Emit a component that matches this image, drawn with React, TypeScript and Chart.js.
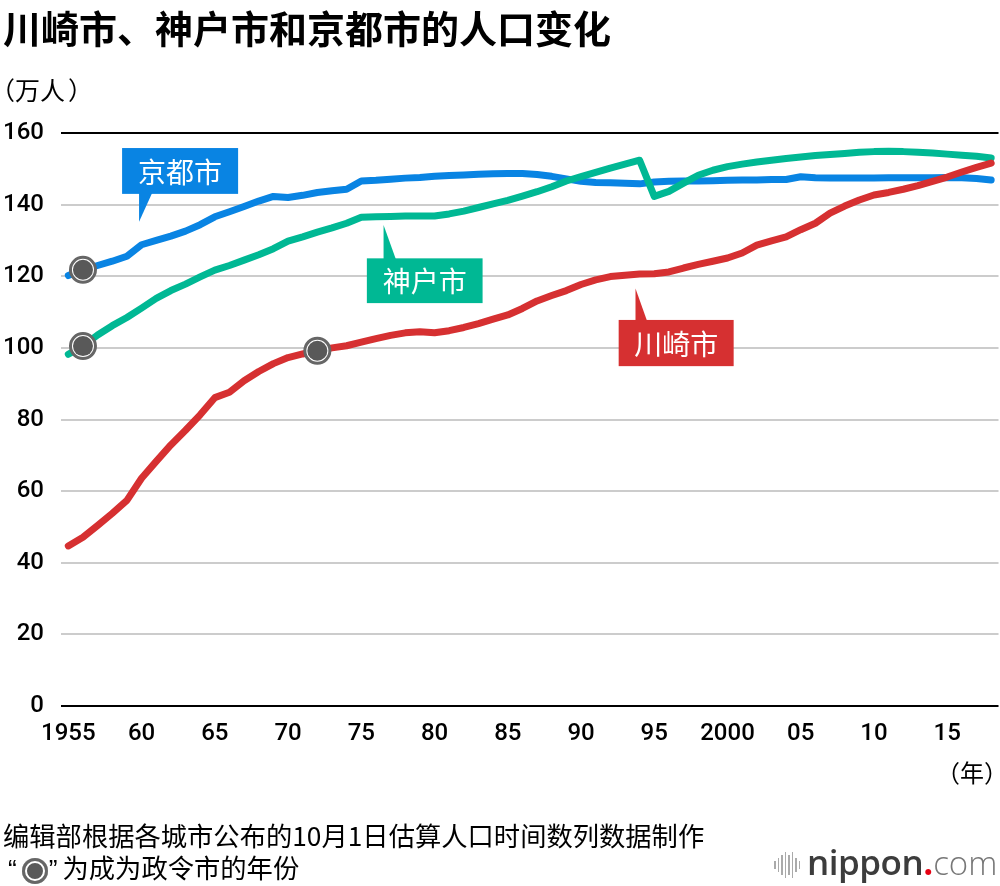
import React, { useEffect, useRef } from "react";
import { Chart, registerables } from "chart.js";

Chart.register(...registerables);

// ---------- DATA ----------
const firstYear = 1955;
const lastYear = 2018;
const years: number[] = [];
for (let yv = firstYear; yv <= lastYear; yv++) years.push(yv);

const tickYears = [1955, 1960, 1965, 1970, 1975, 1980, 1985, 1990, 1995, 2000, 2005, 2010, 2015];
const tickTexts = ["1955", "60", "65", "70", "75", "80", "85", "90", "95", "2000", "05", "10", "15"];

// population, 10k persons, 1955..2018
const kyoto = [
  120.2, 121.8, 123.0, 124.2, 125.6,
  128.8, 130.0, 131.2, 132.6, 134.4,
  136.6, 138.0, 139.5, 141.0, 142.3,
  142.0, 142.6, 143.4, 143.9, 144.3,
  146.6, 146.8, 147.1, 147.4, 147.6,
  147.9, 148.1, 148.3, 148.5, 148.6,
  148.7, 148.7, 148.4, 147.9, 147.2,
  146.5, 146.2, 146.1, 146.0, 145.8,
  146.3, 146.5, 146.6, 146.6, 146.7,
  146.8, 146.9, 146.9, 147.0, 147.0,
  147.8, 147.5, 147.4, 147.4, 147.4,
  147.4, 147.5, 147.5, 147.5, 147.5,
  147.6, 147.5, 147.3, 146.9,
];

const kobe = [
  98.2, 100.5, 103.6, 106.2, 108.5,
  111.1, 113.8, 116.0, 117.8, 119.8,
  121.7, 123.0, 124.5, 126.0, 127.7,
  129.8, 131.0, 132.3, 133.5, 134.8,
  136.5, 136.6, 136.7, 136.8, 136.8,
  136.8, 137.4, 138.2, 139.2, 140.2,
  141.2, 142.4, 143.6, 145.0, 146.6,
  147.8, 149.0, 150.2, 151.3, 152.4,
  142.3, 143.7, 146.0, 148.2, 149.6,
  150.6, 151.3, 151.9, 152.4, 152.9,
  153.3, 153.7, 154.0, 154.3, 154.6,
  154.8, 154.9, 154.8, 154.6, 154.4,
  154.1, 153.8, 153.5, 153.0,
];

const kawasaki = [
  44.7, 47.1, 50.4, 53.8, 57.4,
  63.6, 68.3, 72.9, 77.0, 81.3,
  86.1, 87.6, 90.8, 93.4, 95.6,
  97.3, 98.3, 99.2, 100.0, 100.6,
  101.6, 102.6, 103.5, 104.2, 104.5,
  104.2, 104.8, 105.7, 106.8, 108.0,
  109.2, 111.0, 113.1, 114.6, 116.0,
  117.7, 119.0, 119.9, 120.3, 120.6,
  120.7, 121.2, 122.3, 123.3, 124.2,
  125.1, 126.5, 128.7, 129.9, 131.0,
  133.0, 134.8, 137.6, 139.6, 141.3,
  142.7, 143.4, 144.3, 145.3, 146.5,
  147.7, 149.1, 150.4, 151.6,
];

// year each city became a designated city
const designatedYears = { kyoto: 1956, kobe: 1956, kawasaki: 1972 };

const cityNames = { kyoto: "京都市", kobe: "神户市", kawasaki: "川崎市" };
const cityColors = { kyoto: "#0984e3", kobe: "#00b894", kawasaki: "#d63031" };

// callout boxes in data coordinates (year, value)
const callouts = [
  { key: "kyoto", x0: 1958.67, x1: 1966.59, yTop: 155.8, yBot: 143.0, tipX: 1959.83, tipY: 135.2, baseX0: 1959.83, baseX1: 1960.72, up: false },
  { key: "kobe", x0: 1975.38, x1: 1983.28, yTop: 125.0, yBot: 112.5, tipX: 1976.52, tipY: 134.3, baseX0: 1976.52, baseX1: 1977.36, up: true },
  { key: "kawasaki", x0: 1992.57, x1: 2000.42, yTop: 107.8, yBot: 94.9, tipX: 1993.72, tipY: 116.6, baseX0: 1993.72, baseX1: 1994.51, up: true },
];

const labels = years.map(String);

function markerPoints() {
  const pts: { x: string; y: number }[] = [];
  pts.push({ x: String(designatedYears.kyoto), y: kyoto[designatedYears.kyoto - firstYear] });
  pts.push({ x: String(designatedYears.kobe), y: kobe[designatedYears.kobe - firstYear] });
  pts.push({ x: String(designatedYears.kawasaki), y: kawasaki[designatedYears.kawasaki - firstYear] });
  return pts;
}

const calloutPlugin = {
  id: "callouts",
  afterDatasetsDraw(chart: any) {
    const { ctx, scales } = chart;
    const xs = scales.x;
    const ys = scales.y;
    const x0 = xs.getPixelForValue(0);
    const step = xs.getPixelForValue(1) - x0;
    const px = (yr: number) => x0 + (yr - firstYear) * step;
    const py = (v: number) => ys.getPixelForValue(v);
    ctx.save();
    for (const c of callouts) {
      const color = (cityColors as any)[c.key];
      ctx.fillStyle = color;
      const l = px(c.x0), r = px(c.x1), t = py(c.yTop), b = py(c.yBot);
      ctx.fillRect(l, t, r - l, b - t);
      ctx.beginPath();
      const baseY = c.up ? t : b;
      ctx.moveTo(px(c.baseX0), baseY + (c.up ? 1 : -1));
      ctx.lineTo(px(c.baseX1), baseY + (c.up ? 1 : -1));
      ctx.lineTo(px(c.tipX), py(c.tipY));
      ctx.closePath();
      ctx.fill();
      ctx.fillStyle = "#ffffff";
      ctx.font = '28px "Noto Sans CJK SC", sans-serif';
      ctx.textAlign = "center";
      ctx.textBaseline = "middle";
      ctx.fillText((cityNames as any)[c.key], (l + r) / 2, (t + b) / 2 + 1);
    }
    ctx.restore();
  },
};

export default function App() {
  const canvasRef = useRef<HTMLCanvasElement | null>(null);

  useEffect(() => {
    if (!canvasRef.current) return;
    const lineDs = (key: "kyoto" | "kobe" | "kawasaki", data: number[], order: number) => ({
      type: "line" as const,
      label: cityNames[key],
      data,
      borderColor: cityColors[key],
      backgroundColor: cityColors[key],
      borderWidth: 7,
      pointRadius: 0,
      pointHoverRadius: 0,
      tension: 0,
      borderJoinStyle: "round" as const,
      borderCapStyle: "round" as const,
      order,
      clip: false as any,
    });
    const chart = new Chart(canvasRef.current, {
      type: "line",
      data: {
        labels,
        datasets: [
          lineDs("kawasaki", kawasaki, 1),
          lineDs("kobe", kobe, 2),
          lineDs("kyoto", kyoto, 3),
          {
            type: "line",
            label: "inner",
            data: markerPoints() as any,
            showLine: false,
            pointRadius: 10,
            pointBackgroundColor: "#595959",
            pointBorderWidth: 0,
            order: -2,
          } as any,
          {
            type: "line",
            label: "outer",
            data: markerPoints() as any,
            showLine: false,
            pointRadius: 12.5,
            pointBackgroundColor: "#ffffff",
            pointBorderColor: "#666666",
            pointBorderWidth: 3,
            order: -1,
          } as any,
        ],
      },
      options: {
        responsive: false,
        maintainAspectRatio: false,
        animation: false,
        events: [],
        layout: { padding: { top: 133, right: 0, left: 0, bottom: 0 } },
        plugins: {
          legend: { display: false },
          tooltip: { enabled: false },
          title: { display: false },
        },
        scales: {
          x: {
            type: "category",
            offset: true,
            grid: { display: false, drawTicks: false },
            border: { display: false },
            ticks: {
              autoSkip: false,
              maxRotation: 0,
              minRotation: 0,
              padding: 14,
              color: "#000",
              font: { family: 'Roboto, "Liberation Sans", Arial, sans-serif', size: 24, weight: "500" as any },
              callback: function (_v: any, index: number) {
                const i = tickYears.indexOf(years[index]);
                return i >= 0 ? tickTexts[i] : "";
              },
            },
            afterFit: (s: any) => {
              s.height = 180;
              s.paddingLeft = 0;
              s.paddingRight = 0;
            },
          },
          y: {
            min: 0,
            max: 160,
            grid: {
              drawTicks: false,
              color: (c: any) => (c.tick && (c.tick.value === 0 || c.tick.value === 160) ? "#000000" : "#cccccc"),
              lineWidth: 2,
            },
            border: { display: false },
            ticks: {
              stepSize: 20,
              padding: 17,
              color: "#000",
              font: { family: 'Roboto, "Liberation Sans", Arial, sans-serif', size: 24, weight: "500" as any },
            },
            afterFit: (s: any) => {
              s.width = 61;
            },
          },
        },
      },
      plugins: [calloutPlugin],
    });
    return () => chart.destroy();
  }, []);

  const cjk = '"Noto Sans CJK SC", "Noto Sans", sans-serif';
  const latin = '"Liberation Sans", Arial, sans-serif';
  const bars = [8, 14, 20, 26, 20, 26, 14, 8];

  return (
    <div style={{ position: "absolute", left: 0, top: 0, width: 1000, height: 886, background: "#fff", overflow: "hidden" }}>
      <canvas ref={canvasRef} width={1014} height={886} style={{ position: "absolute", left: 0, top: 0, width: 1014, height: 886 }} />
      <div style={{ position: "absolute", left: 3, top: 7, fontFamily: cjk, fontWeight: 700, fontSize: 38, lineHeight: "40px", color: "#000", whiteSpace: "nowrap" }}>
        川崎市、神户市和京都市的人口变化
      </div>
      <div style={{ position: "absolute", left: -10, top: 75, fontFamily: cjk, fontSize: 25, lineHeight: "28px", color: "#000", whiteSpace: "nowrap" }}>
        （万人<span style={{ marginLeft: 3 }}>）</span>
      </div>
      <div style={{ position: "absolute", left: 936, top: 758, fontFamily: cjk, fontSize: 24, lineHeight: "28px", color: "#000", whiteSpace: "nowrap" }}>
        （年）
      </div>
      <div style={{ position: "absolute", left: 3, top: 819, fontFamily: cjk, fontSize: 26.3, lineHeight: "32px", color: "#000", whiteSpace: "nowrap" }}>
        <div>编辑部根据各城市公布的10月1日估算人口时间数列数据制作</div>
        <div>
          <span style={{ fontFamily: latin, marginLeft: 5 }}>“</span><span
            style={{
              display: "inline-block",
              width: 26,
              height: 26,
              borderRadius: "50%",
              background: "#595959",
              boxShadow: "inset 0 0 0 3px #666666, inset 0 0 0 5px #ffffff",
              verticalAlign: "-6px",
              marginLeft: 5,
            }}
          /><span style={{ fontFamily: latin, marginLeft: 1, marginRight: 5 }}>”</span>为成为政令市的年份
        </div>
      </div>
      <div style={{ position: "absolute", left: 774, top: 848, height: 34, display: "flex", alignItems: "center", whiteSpace: "nowrap" }}>
        <div style={{ display: "flex", alignItems: "center", gap: 2, marginRight: 7 }}>
          {bars.map((h, i) => (
            <div key={i} style={{ width: 1.5, height: h, background: "#aaaaaa" }} />
          ))}
        </div>
        <span style={{ fontFamily: '"Open Sans", sans-serif', lineHeight: "34px" }}>
          <span style={{ fontSize: 35, fontWeight: 600, color: "#3c3c3c", letterSpacing: -0.5 }}>nippon</span>
          <span style={{ fontSize: 35, fontWeight: 700, color: "#e60012" }}>.</span>
          <span style={{ fontSize: 33, fontWeight: 300, color: "#777" }}>com</span>
        </span>
      </div>
    </div>
  );
}
